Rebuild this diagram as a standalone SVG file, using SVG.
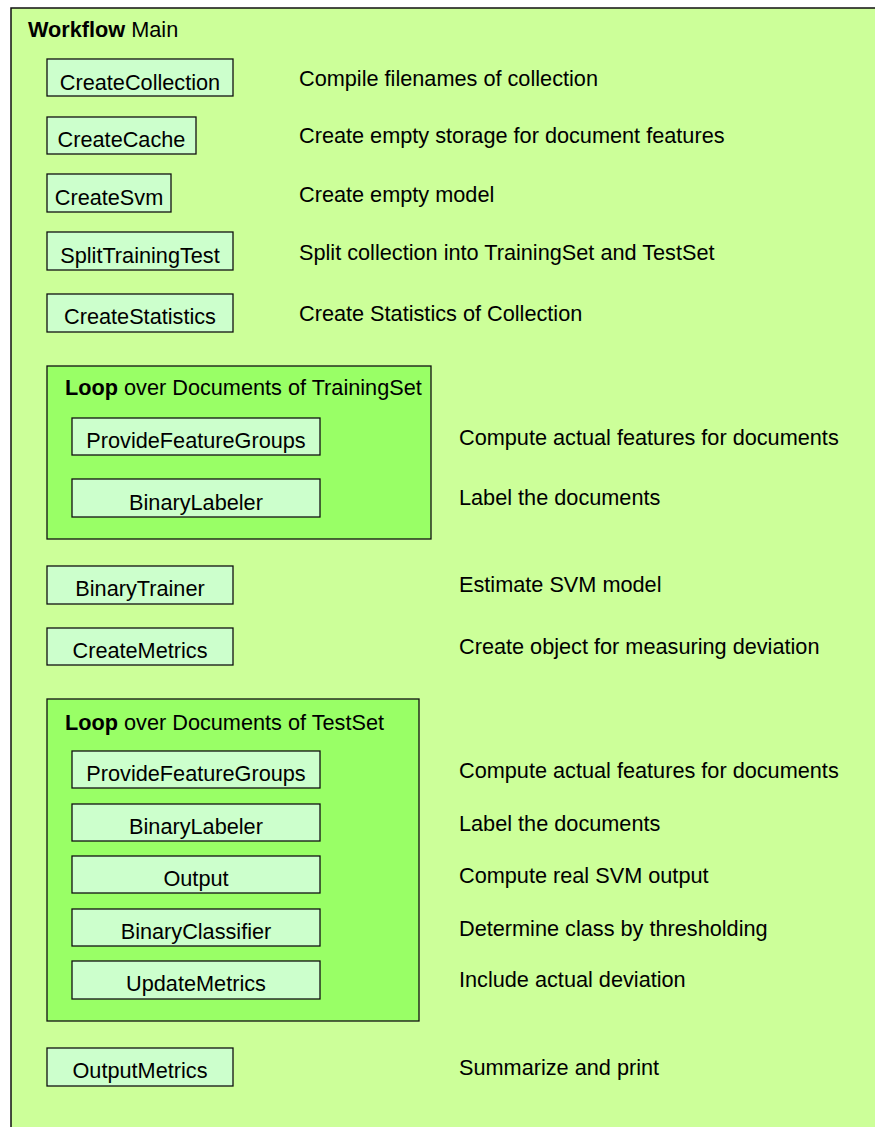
<svg xmlns="http://www.w3.org/2000/svg" width="875" height="1127" viewBox="0 0 875 1127">
<style>
text{font-family:"Liberation Sans",Arial,Helvetica,sans-serif;font-size:21.7px;fill:#000}
.box{fill:#ccffcc;stroke:#111;stroke-width:1.3}
.loop{fill:#99ff66;stroke:#111;stroke-width:1.3}
.lbl{text-anchor:middle}
.b{font-weight:bold}
</style>
<rect width="875" height="1127" fill="#ffffff"/>
<g id="workflow">
<rect x="11" y="8" width="880" height="1140" fill="#ccff99" stroke="#111" stroke-width="1.5"/>
<text x="28" y="37"><tspan class="b">Workflow</tspan> Main</text>
</g>
<g id="CreateCollection"><rect class="box" x="47" y="59" width="186" height="37"/><text class="lbl" x="140" y="90">CreateCollection</text></g>
<g id="CreateCache"><rect class="box" x="47" y="117" width="149" height="37"/><text class="lbl" x="121.5" y="147">CreateCache</text></g>
<g id="CreateSvm"><rect class="box" x="47" y="174" width="124" height="38"/><text class="lbl" x="109" y="205">CreateSvm</text></g>
<g id="SplitTrainingTest"><rect class="box" x="47" y="232" width="186" height="38"/><text class="lbl" x="140" y="263">SplitTrainingTest</text></g>
<g id="CreateStatistics"><rect class="box" x="47" y="294" width="186" height="38"/><text class="lbl" x="140" y="324">CreateStatistics</text></g>
<g id="LoopTraining">
<rect class="loop" x="47" y="366" width="384" height="173"/>
<text x="65" y="395"><tspan class="b">Loop</tspan> over Documents of TrainingSet</text>
<g id="ProvideFeatureGroups1"><rect class="box" x="72" y="418" width="248" height="37"/><text class="lbl" x="196" y="448">ProvideFeatureGroups</text></g>
<g id="BinaryLabeler1"><rect class="box" x="72" y="479" width="248" height="38"/><text class="lbl" x="196" y="510">BinaryLabeler</text></g>
</g>
<g id="BinaryTrainer"><rect class="box" x="47" y="566" width="186" height="38"/><text class="lbl" x="140" y="596">BinaryTrainer</text></g>
<g id="CreateMetrics"><rect class="box" x="47" y="628" width="186" height="37"/><text class="lbl" x="140" y="658">CreateMetrics</text></g>
<g id="LoopTest">
<rect class="loop" x="47" y="699" width="372" height="322"/>
<text x="65" y="730"><tspan class="b">Loop</tspan> over Documents of TestSet</text>
<g id="ProvideFeatureGroups2"><rect class="box" x="72" y="751" width="248" height="37"/><text class="lbl" x="196" y="781">ProvideFeatureGroups</text></g>
<g id="BinaryLabeler2"><rect class="box" x="72" y="804" width="248" height="37"/><text class="lbl" x="196" y="834">BinaryLabeler</text></g>
<g id="Output"><rect class="box" x="72" y="856" width="248" height="37"/><text class="lbl" x="196" y="886">Output</text></g>
<g id="BinaryClassifier"><rect class="box" x="72" y="909" width="248" height="37"/><text class="lbl" x="196" y="939">BinaryClassifier</text></g>
<g id="UpdateMetrics"><rect class="box" x="72" y="961" width="248" height="38"/><text class="lbl" x="196" y="991">UpdateMetrics</text></g>
</g>
<g id="OutputMetrics"><rect class="box" x="47" y="1048" width="186" height="38"/><text class="lbl" x="140" y="1078">OutputMetrics</text></g>
<g id="descriptions">
<text x="299" y="86">Compile filenames of collection</text>
<text x="299" y="143">Create empty storage for document features</text>
<text x="299" y="202">Create empty model</text>
<text x="299" y="260">Split collection into TrainingSet and TestSet</text>
<text x="299" y="321">Create Statistics of Collection</text>
<text x="459" y="445">Compute actual features for documents</text>
<text x="459" y="505">Label the documents</text>
<text x="459" y="592">Estimate SVM model</text>
<text x="459" y="654">Create object for measuring deviation</text>
<text x="459" y="778">Compute actual features for documents</text>
<text x="459" y="831">Label the documents</text>
<text x="459" y="883">Compute real SVM output</text>
<text x="459" y="936">Determine class by thresholding</text>
<text x="459" y="987">Include actual deviation</text>
<text x="459" y="1075">Summarize and print</text>
</g>
</svg>
